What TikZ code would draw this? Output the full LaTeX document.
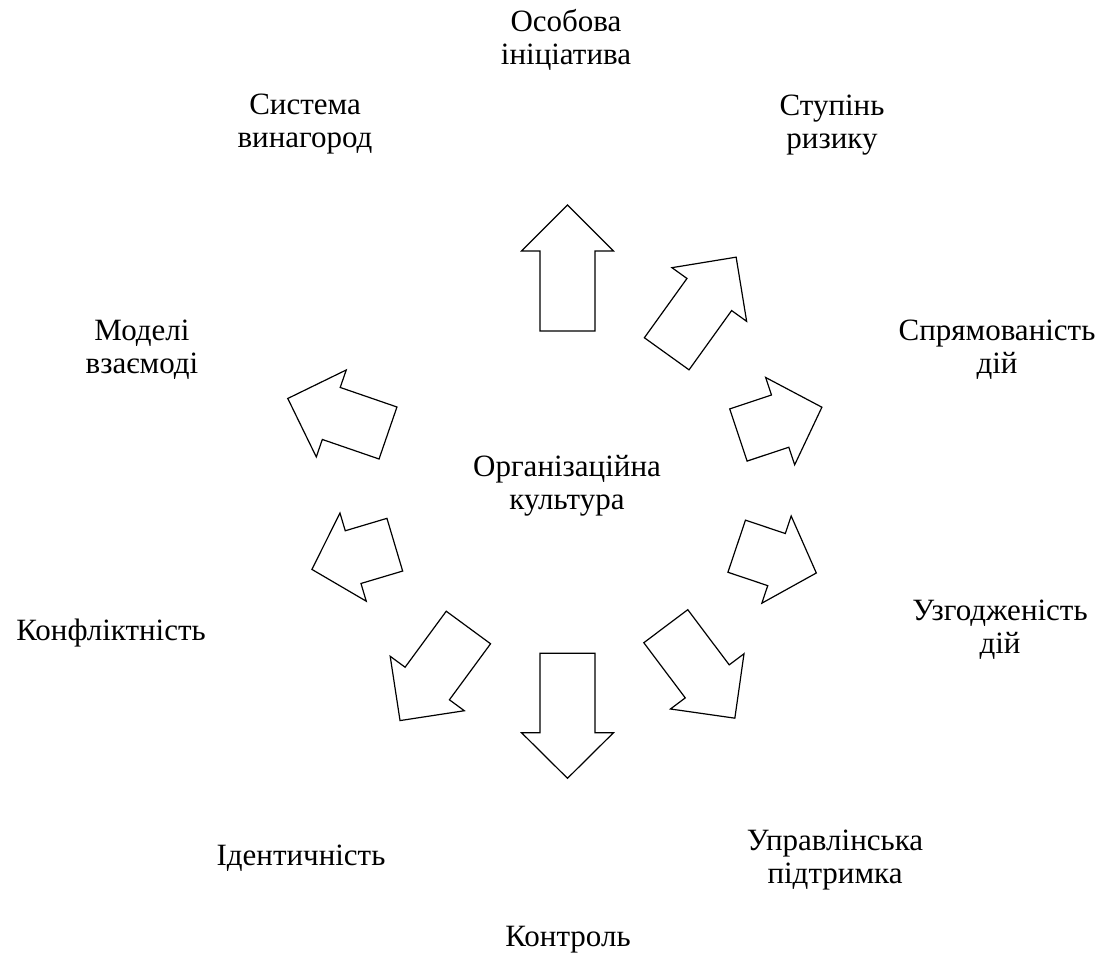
\documentclass[tikz,border=0pt]{standalone}
\usepackage{fontspec}
\setmainfont{Liberation Serif}
\newcommand\bigarrow[5]{%
  \draw[arr, shift={(#1,#2)}, rotate=#3] (0,-27.5) -- (#4,-27.5) -- (#4,-46) -- ({#4+#5},0) -- (#4,46) -- (#4,27.5) -- (0,27.5) -- cycle;}
\begin{document}
\begin{tikzpicture}[x=1pt,y=1pt,
  lbl/.style={align=center, font=\fontsize{31}{33}\selectfont, inner sep=0pt},
  arr/.style={draw=black, line width=1.2pt, fill=white, line join=miter}]
\useasboundingbox (0,0) rectangle (1111,962);
% arrows: base x, base y, angle, shaft length, head length
\bigarrow{567.5}{631}{90}{80}{46}
\bigarrow{666.7}{608.2}{54.3}{73}{46}
\bigarrow{738.4}{527}{18.4}{44}{44}
\bigarrow{736.7}{415.8}{-18.6}{42}{42}
\bigarrow{388}{529}{161}{60}{46}
\bigarrow{394.8}{417.3}{196.6}{43.5}{43}
\bigarrow{468.4}{334.5}{233.7}{69.5}{46}
\bigarrow{665.8}{335.8}{-53.1}{69}{46}
\bigarrow{567.5}{308.7}{270}{79.4}{45.6}
% labels
\node[lbl] (init) at (566,922) {Особова\\ініціатива};
\node[lbl] (reward) at (305,838) {Система\\винагород};
\node[lbl] (risk) at (832,837) {Ступінь\\ризику};
\node[lbl] (models) at (142,612) {Моделі\\взаємоді};
\node[lbl] (direct) at (997,612) {Спрямованість\\дій};
\node[lbl] (culture) at (567,476) {Організаційна\\культура};
\node[lbl] (conflict) at (111,329) {Конфліктність};
\node[lbl] (coord) at (1000,332) {Узгодженість\\дій};
\node[lbl] (ident) at (301,104) {Ідентичність};
\node[lbl] (support) at (835,102) {Управлінська\\підтримка};
\node[lbl] (control) at (568,22) {Контроль};
\end{tikzpicture}
\end{document}
